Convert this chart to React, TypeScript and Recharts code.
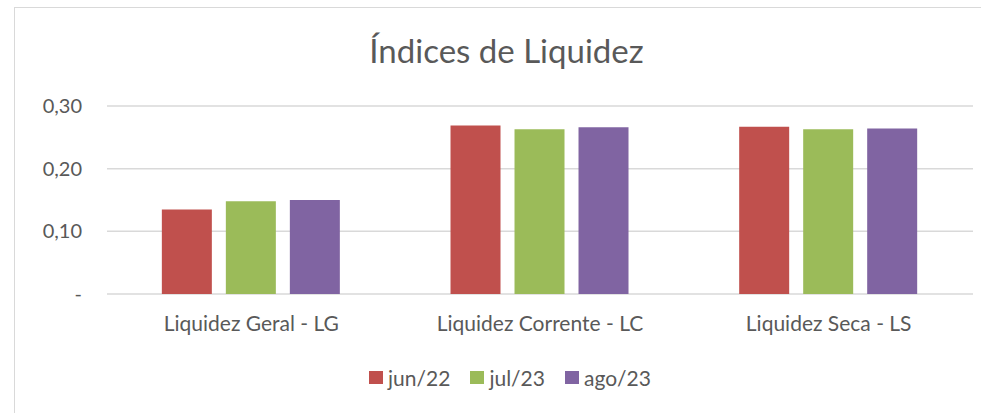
import { BarChart, Bar, XAxis, YAxis, CartesianGrid, Legend } from "recharts";

const categories = ["Liquidez Geral - LG", "Liquidez Corrente - LC", "Liquidez Seca - LS"];
const jun22 = [0.135, 0.269, 0.267];
const jul23 = [0.148, 0.263, 0.263];
const ago23 = [0.15, 0.266, 0.264];
const yTicks = [0, 0.1, 0.2, 0.3];

const series = [
  { key: "jun/22", color: "#C0504D" },
  { key: "jul/23", color: "#9BBB59" },
  { key: "ago/23", color: "#8064A2" },
];

const data = categories.map((name, i) => ({
  name,
  "jun/22": jun22[i],
  "jul/23": jul23[i],
  "ago/23": ago23[i],
}));

const font = "Lato, 'Open Sans', sans-serif";
const textColor = "#595959";

const formatTick = (v: number) => (v === 0 ? "-" : v.toFixed(2).replace(".", ","));

const LegendContent = () => (
  <div style={{ display: "flex", justifyContent: "center", fontFamily: font, fontSize: 21, color: textColor }}>
    {series.map((s, i) => (
      <div key={s.key} style={{ display: "flex", alignItems: "center", marginLeft: i === 0 ? 0 : 20 }}>
        <span style={{ width: 14, height: 13, background: s.color, display: "inline-block", marginRight: 5 }} />
        <span>{s.key}</span>
      </div>
    ))}
  </div>
);

const App = () => {
  return (
    <div style={{ position: "absolute", left: 0, top: 0, width: 981, height: 413, overflow: "hidden", background: "#fff" }}>
      <div
        style={{
          position: "absolute",
          left: 14,
          top: 7,
          width: 1000,
          height: 450,
          border: "1.5px solid #D9D9D9",
        }}
      />
      <div
        style={{
          position: "absolute",
          left: 0,
          top: 30,
          width: 1013,
          textAlign: "center",
          fontFamily: font,
          fontSize: 33,
          color: textColor,
        }}
      >
        Índices de Liquidez
      </div>
      <div style={{ position: "absolute", left: 0, top: 0 }}>
        <BarChart
          width={981}
          height={413}
          data={data}
          margin={{ top: 106, right: 8, left: 47, bottom: 89 }}
          barCategoryGap="19%"
          barGap={14}
        >
          <CartesianGrid vertical={false} stroke="#D9D9D9" strokeWidth={1.5} />
          <XAxis
            dataKey="name"
            axisLine={false}
            tickLine={false}
            tickMargin={16}
            height={30}
            tick={{ fill: textColor, fontSize: 21, fontFamily: font }}
          />
          <YAxis
            domain={[0, 0.3]}
            ticks={yTicks}
            width={60}
            axisLine={false}
            tickLine={false}
            tickFormatter={formatTick}
            tickMargin={19}
            tick={{ fill: textColor, fontSize: 20, fontFamily: font }}
          />
          <Legend
            verticalAlign="middle"
            layout="horizontal"
            wrapperStyle={{ top: 365, left: 0, width: 1020 }}
            content={LegendContent}
          />
          {series.map((s) => (
            <Bar key={s.key} dataKey={s.key} fill={s.color} isAnimationActive={false} />
          ))}
        </BarChart>
      </div>
    </div>
  );
};

export default App;
